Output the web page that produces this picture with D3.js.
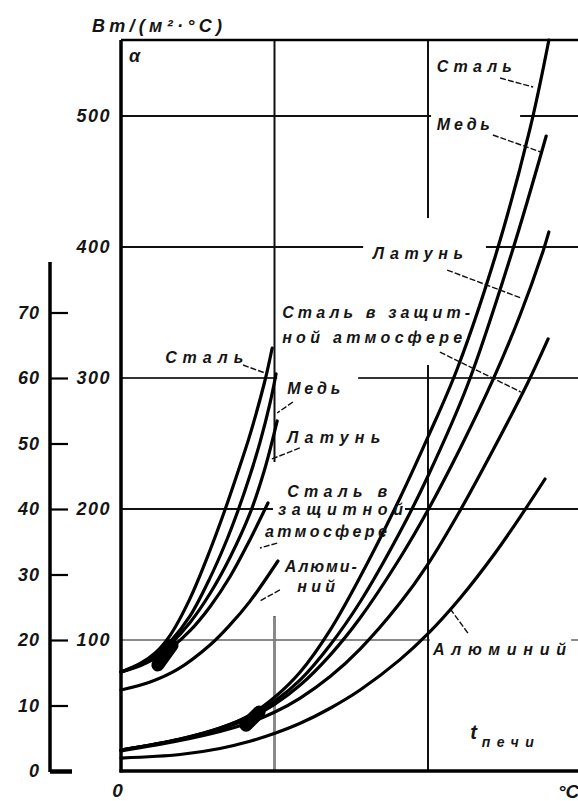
<!DOCTYPE html>
<html><head><meta charset="utf-8">
<script src="https://cdn.jsdelivr.net/npm/d3@7"></script>
<style>
html,body{margin:0;padding:0;background:#fff;}
svg{display:block;}
text{font-family:"Liberation Sans","DejaVu Sans",sans-serif;font-style:italic;font-weight:bold;fill:#151515;}
</style></head><body>
<svg id="c" width="578" height="801"></svg>
<script>
// ---------- DATA ----------
// main axis ticks, W/(m²·°C)
const mainTicks = [100, 200, 300, 400, 500];
// auxiliary (left) axis ticks
const auxTicks = [0, 10, 20, 30, 40, 50, 60, 70];
// vertical grid lines, °C
const gridT = [400, 800];
const seriesNames = ["Сталь", "Медь", "Латунь", "Сталь в защитной атмосфере", "Алюминий"];

// left group of curves  [t, α]
const lowSteel     = [[0,75.6],[50,82.1],[89,90.1],[128,103.6],[180,131.8],[232,168.5],[271,199.4],[310,233.0],[336,256.6],[375,297.9],[394,322.9]];
const lowCopper    = [[0,75.6],[50,81.4],[89,88.2],[128,98.6],[180,118.4],[232,147.4],[271,173.1],[305,198.9],[336,225.5],[362,250.7],[388,280.5],[404,303.1]];
const lowBrass     = [[0,75.6],[50,81.1],[89,87.4],[128,96.6],[180,113.4],[232,135.5],[284,163.0],[336,196.6],[375,230.9],[407,267.2]];
const lowSteelProt = [[0,75.6],[50,80.4],[89,85.9],[128,93.4],[180,107.1],[232,125.4],[284,148.3],[331,173.7],[383,204.6]];
const lowAlum      = [[0,61.8],[76,67.9],[146,77.3],[232,96.2],[284,111.5],[336,129.5],[409,160.3]];

// right group of curves  [t, α]
const highSteel     = [[0,16.0],[154,24.4],[258,32.8],[336,42.7],[401,56.5],[467,75.6],[545,107.6],[623,148.1],[727,208.4],[800,255.0],[876,306.9],[977,394.5],[1066,490.5],[1115,558]];
const highCopper    = [[0,16.0],[154,24.4],[258,32.8],[336,42.0],[401,53.4],[467,69.5],[545,96.2],[623,129.0],[727,182.4],[800,225.2],[904,295.4],[1019,396.2],[1108,484.7]];
const highBrass     = [[0,16.0],[154,24.0],[258,32.1],[336,40.5],[401,51.1],[467,65.6],[545,88.5],[623,116.8],[727,162.6],[800,199.2],[883,245.8],[969,298.5],[1040,348.1],[1100,397.0],[1115,411.5]];
const highSteelProt = [[0,15.3],[154,23.3],[258,30.2],[336,37.0],[401,45.0],[467,55.7],[545,72.1],[623,93.1],[727,128.2],[800,158.0],[883,198.5],[975,248.1],[1061,296.9],[1113,329.8]];
const highAlum      = [[0,9.9],[154,12.6],[258,17.2],[336,22.7],[401,28.8],[467,36.4],[545,47.9],[623,61.8],[727,85.0],[800,104.8],[883,131.7],[975,166.4],[1048,197.4],[1105,222.9]];

// ---------- LAYOUT ----------
const svg = d3.select("#c");
const x = d3.scaleLinear().domain([0, 1200]).range([121, 581.5]);
const y = d3.scaleLinear().domain([0, 500]).range([771, 116]);
const yAux = d3.scaleLinear().domain([0, 100]).range([771, 116]);
const tMax = 1200, aTop = 558, auxTop = 77.7;

// grid
const grid = svg.append("g").attr("stroke", "#111").attr("stroke-width", 2);
mainTicks.forEach(v => {
  grid.append("line").attr("x1", x(0)).attr("x2", x(tMax)).attr("y1", y(v)).attr("y2", y(v))
    .attr("stroke", v === 100 ? "#8a8a8a" : (v === 300 ? "#333" : "#111"));
});
gridT.forEach(t => {
  grid.append("line").attr("x1", x(t)).attr("x2", x(t)).attr("y1", y(0)).attr("y2", y(aTop));
});
grid.append("line").attr("x1", x(400)).attr("x2", x(400)).attr("y1", y(0)).attr("y2", y(118))
  .attr("stroke", "#8a8a8a").attr("stroke-width", 2.2);

// white boxes behind labels (interrupt grid lines)
const boxes = [
  [808,1040,508.4,481.7],[631,951,422.1,374.8],[409,936,374.8,309.9],
  [407,618,306.1,283.2],[396,740,235.9,118.3],[805,1173,104.6,84.7]
];
svg.append("g").selectAll("rect").data(boxes).join("rect")
  .attr("x", d => x(d[0])).attr("width", d => x(d[1]) - x(d[0]))
  .attr("y", d => y(d[2])).attr("height", d => y(d[3]) - y(d[2]))
  .attr("fill", "#fff");

// frame
const frame = svg.append("g").attr("stroke", "#000");
frame.append("line").attr("x1", x(0)).attr("x2", x(0)).attr("y1", y(0) + 1.5).attr("y2", y(aTop)).attr("stroke-width", 3.5);
frame.append("line").attr("x1", x(0) - 1.5).attr("x2", x(tMax)).attr("y1", y(0)).attr("y2", y(0)).attr("stroke-width", 3.5);
frame.append("line").attr("x1", x(0)).attr("x2", x(tMax)).attr("y1", y(aTop)).attr("y2", y(aTop)).attr("stroke-width", 2.5);

// curves
const line = d3.line().x(d => x(d[0])).y(d => y(d[1])).curve(d3.curveCatmullRom.alpha(0.5));
const allSeries = [lowSteel, lowCopper, lowBrass, lowSteelProt, lowAlum,
                   highSteel, highCopper, highBrass, highSteelProt, highAlum];
svg.append("g").selectAll("path").data(allSeries).join("path")
  .attr("d", line).attr("fill", "none").attr("stroke", "#000")
  .attr("stroke-width", 3.2).attr("stroke-linecap", "round").attr("stroke-linejoin", "round");

// ink blots where the curve bundles merge [t1, α1, t2, α2]
const blots = [[96,81,133,96],[326,35,360,45]];
svg.append("g").selectAll("line").data(blots).join("line")
  .attr("x1", d => x(d[0])).attr("y1", d => y(d[1])).attr("x2", d => x(d[2])).attr("y2", d => y(d[3]))
  .attr("stroke", "#000").attr("stroke-width", 13).attr("stroke-linecap", "round");

const fontStyle = sel => sel.style("font-family", '"Liberation Sans",sans-serif')
  .style("font-style", "italic").style("font-weight", "bold").attr("fill", "#151515");

// main axis labels
const ax = svg.append("g").attr("transform", `translate(${x(0)},0)`)
  .call(d3.axisLeft(y).tickValues(mainTicks).tickSize(0).tickPadding(10).tickFormat(d3.format("d")));
ax.select(".domain").remove();
ax.selectAll("text").attr("font-size", 18).attr("letter-spacing", 1.5).call(fontStyle);

// t axis "0"
const bx = svg.append("g").attr("transform", `translate(0,${y(0)})`)
  .call(d3.axisBottom(x).tickValues([0]).tickSize(0).tickPadding(13));
bx.select(".domain").remove();
bx.selectAll("text").attr("font-size", 19).attr("dx", -4).call(fontStyle);

// auxiliary axis
const auxX = 50;
svg.append("line").attr("x1", auxX).attr("x2", auxX).attr("y1", yAux(0) + 1).attr("y2", yAux(auxTop))
  .attr("stroke", "#000").attr("stroke-width", 3.5);
const aa = svg.append("g").attr("transform", `translate(${auxX},0)`)
  .call(d3.axisLeft(yAux).tickValues(auxTicks).tickSize(-18).tickPadding(10).tickFormat(d3.format("d")));
aa.select(".domain").remove();
aa.selectAll("line").attr("stroke", "#000").attr("stroke-width", 2.2);
aa.selectAll(".tick").filter(d => d === 0).select("line").attr("stroke-width", 4.5).attr("x2", 22);
aa.selectAll("text").attr("font-size", 18).attr("letter-spacing", 1).call(fontStyle);

// unit label and α
svg.append("text").attr("x", 92).attr("y", 32).attr("font-size", 18)
  .attr("textLength", 130).attr("lengthAdjust", "spacing").text("Вт/(м²·°С)");
svg.append("text").attr("x", x(0) + 8).attr("y", y(aTop) + 22).attr("font-size", 18).text("α");

// °C at end of t axis
svg.append("text").attr("x", 558).attr("y", 798).attr("font-size", 19).text("°С");
// t печи
svg.append("text").attr("x", x(910)).attr("y", y(24.4)).attr("font-size", 20).text("t");
svg.append("text").attr("x", x(940)).attr("y", y(18)).attr("font-size", 14)
  .attr("textLength", 52).attr("lengthAdjust", "spacing").text("печи");

// curve labels [t, α, width, text]
const labels = [
  [823,533.6,75,seriesNames[0]],
  [823,489.3,53,seriesNames[1]],
  [657,390.8,90,seriesNames[2]],
  [420,345.8,188,"Сталь в защит-"],
  [420,326.7,180,"ной атмосфере"],
  [813,88.5,133,seriesNames[4]],
  [115,311.5,78,seriesNames[0]],
  [433,287.8,53,seriesNames[1]],
  [433,250.4,93,seriesNames[2]],
  [433,209.2,100,"Сталь в"],
  [409,195.4,125,"защитной"],
  [375,178.6,122,"атмосфере"],
  [427,151.9,72,"Алюми-"],
  [459,136.6,38,"ний"]
];
svg.append("g").selectAll("text").data(labels).join("text")
  .attr("x", d => x(d[0])).attr("y", d => y(d[1])).attr("font-size", 16)
  .attr("textLength", d => d[2]).attr("lengthAdjust", "spacing").text(d => d[3]);

// leader lines [t1, α1, t2, α2]
const leaders = [
  [988,529,1074,522.1],[969,485.5,1094,472.5],[850,382.4,1042,361.1],[831,319.8,1042,289.3],
  [904,105.3,860,122.9],[318,309.9,383,303.0],[448,281.7,407,273.3],[466,246.6,393,238.2],
  [407,174.0,362,170.2],[414,138.2,362,129.8]
];
svg.append("g").selectAll("line").data(leaders).join("line")
  .attr("x1", d => x(d[0])).attr("y1", d => y(d[1])).attr("x2", d => x(d[2])).attr("y2", d => y(d[3]))
  .attr("stroke", "#111").attr("stroke-width", 1.4).attr("stroke-dasharray", "6,2");
</script>
</body></html>
